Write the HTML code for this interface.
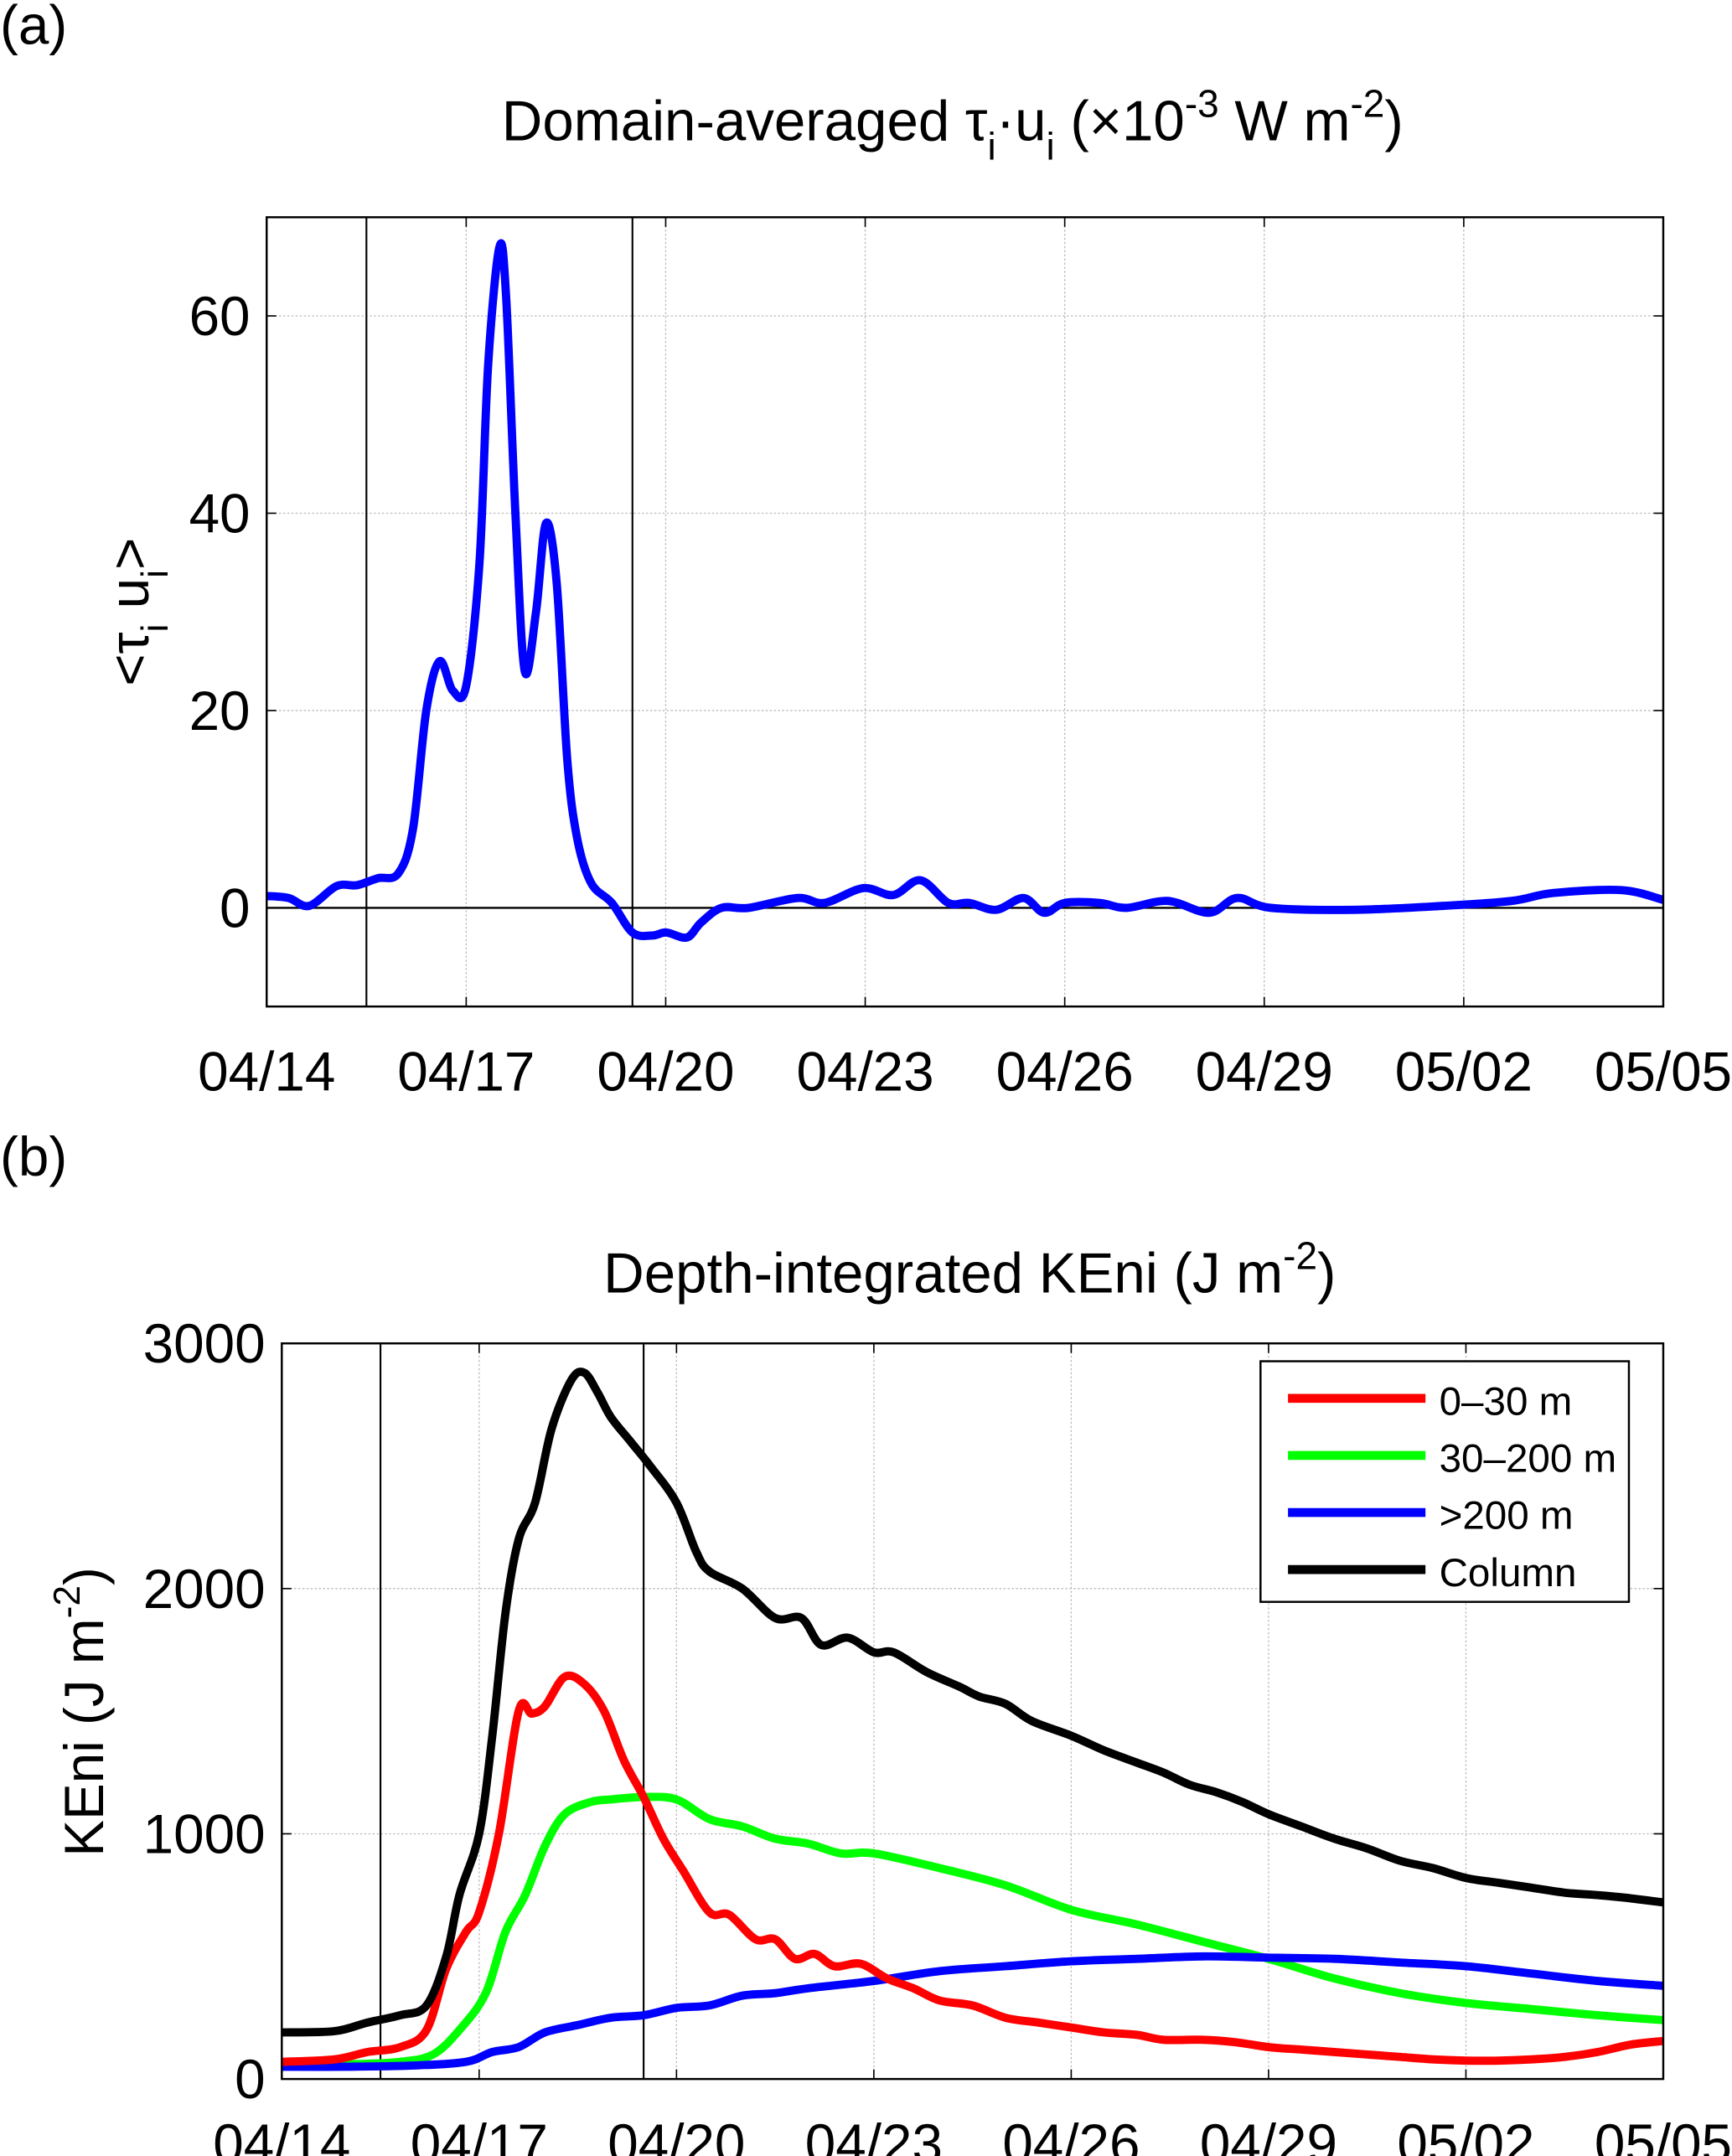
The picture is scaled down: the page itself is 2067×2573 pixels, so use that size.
<!DOCTYPE html>
<html><head><meta charset="utf-8"><style>
html,body{margin:0;padding:0;background:#fff}
svg{display:block}
text{font-family:"Liberation Sans",sans-serif;fill:#000}
</style></head><body>
<svg id="fig" width="2067" height="2573" viewBox="0 0 1260 1568" preserveAspectRatio="none" xmlns="http://www.w3.org/2000/svg">
<g id="pa"></g>
<g id="pb"></g>
</svg>
<script>
// Panel (a) data
const xTickLabels = ["04/14","04/17","04/20","04/23","04/26","04/29","05/02","05/05"];
const xTickDays = [0,3,6,9,12,15,18,21];
const eventDays = [1.5,5.5];
const aYTicks = [0,20,40,60];
const aDays = [0,0.33,0.64,1.05,1.36,1.67,1.98,2.2,2.4,2.6,2.8,3.0,3.2,3.33,3.5,3.6,3.74,3.88,4.05,4.2,4.36,4.52,4.67,4.88,5.19,5.5,5.8,6.01,6.32,6.53,6.84,7.25,7.98,8.39,8.97,9.42,9.83,10.25,10.56,10.97,11.38,11.69,12.0,12.52,12.93,13.55,14.17,14.59,15.1,16.34,17.69,18.72,19.34,20.37,21];
const aVals = [1.2,1,0.2,2.2,2.3,3,3.5,8,20,25,22,22.5,35,55,67,62,40,24,30,39,33,15,7,2.5,0.5,-2.5,-2.8,-2.5,-3,-1.5,0,0,1,0.5,2,1.3,2.8,0.5,0.5,-0.2,1,-0.5,0.5,0.5,0,0.7,-0.5,1,0,-0.2,0.2,0.7,1.5,1.8,0.8];
// Panel (b) data
const bYTicks = [0,1000,2000,3000];
const blackDays = [0,0.8,1.3,1.8,2.2,2.5,2.7,3.0,3.2,3.4,3.6,3.85,4.1,4.4,4.6,4.8,5.0,5.3,5.6,6.0,6.3,6.5,7.0,7.5,7.9,8.2,8.6,9.0,9.3,9.8,10.3,10.6,11.0,11.4,12.0,12.5,13.0,13.4,13.8,14.2,14.6,15.0,15.5,16.0,16.5,17.0,17.5,18.0,18.5,19.0,19.5,20.0,20.4,21];
const blackVals = [190,195,230,260,300,500,750,1000,1400,1900,2200,2350,2650,2850,2880,2800,2700,2600,2500,2350,2150,2070,2000,1880,1880,1770,1800,1740,1740,1660,1600,1560,1530,1460,1400,1340,1290,1250,1200,1170,1130,1080,1030,980,940,890,860,820,800,780,760,750,740,720];
const redDays = [0,0.8,1.3,1.8,2.2,2.5,2.8,3.0,3.3,3.6,3.8,4.0,4.3,4.6,4.9,5.2,5.5,5.8,6.1,6.5,6.8,7.2,7.5,7.8,8.1,8.4,8.8,9.2,9.6,10.0,10.5,11.0,11.5,12,12.5,13,13.4,14,14.5,15,15.5,16,16.5,17,17.5,18,18.5,19,19.5,20,20.5,21];
const redVals = [70,80,110,130,200,450,600,680,1000,1500,1490,1520,1640,1610,1500,1300,1150,980,850,680,670,570,570,490,510,460,470,410,370,320,300,250,230,210,190,180,160,160,150,130,120,110,100,90,80,75,75,80,90,110,140,155];
const greenDays = [0,1,1.8,2.3,2.7,3.1,3.4,3.7,4.0,4.3,4.7,5.0,5.5,6.0,6.5,7.0,7.5,8.0,8.5,9,10,11,12,13,14,15,16,17,18,19,20,21];
const greenVals = [60,60,70,100,200,350,600,750,950,1080,1130,1140,1150,1140,1060,1030,980,960,920,920,860,790,690,630,560,490,410,350,310,285,260,240];
const blueDays = [0,1,2,2.8,3.2,3.6,4.0,4.5,5.0,5.5,6.0,6.5,7.0,7.5,8,9,10,11,12,13,14,15,16,17,18,19,20,21];
const blueVals = [50,50,55,70,110,130,190,220,250,260,290,300,340,350,370,400,440,460,480,490,500,495,490,475,460,430,400,380];
const legendLabels = ["0\u201330 m","30\u2013200 m",">200 m","Column"];

const NS="http://www.w3.org/2000/svg";
function mk(parent,tag,attrs,txt){const e=document.createElementNS(NS,tag);for(const k in attrs)e.setAttribute(k,attrs[k]);if(txt!==undefined)e.textContent=txt;parent.appendChild(e);return e;}
function spline(xs,ys){let d="M"+xs[0].toFixed(2)+","+ys[0].toFixed(2);for(let i=0;i<xs.length-1;i++){const x0=xs[Math.max(i-1,0)],y0=ys[Math.max(i-1,0)],x1=xs[i],y1=ys[i],x2=xs[i+1],y2=ys[i+1],x3=xs[Math.min(i+2,xs.length-1)],y3=ys[Math.min(i+2,xs.length-1)];const c1x=x1+(x2-x0)/6,c1y=y1+(y2-y0)/6,c2x=x2-(x3-x1)/6,c2y=y2-(y3-y1)/6;d+=" C"+c1x.toFixed(2)+","+c1y.toFixed(2)+" "+c2x.toFixed(2)+","+c2y.toFixed(2)+" "+x2.toFixed(2)+","+y2.toFixed(2);}return d;}

function axes(g,L,R,T,B,xs,ys,yTicks){
  xTickDays.forEach((d,i)=>{const x=xs(d);
    if(i>0&&i<xTickDays.length-1){const gl=mk(g,'line',{x1:x,x2:x,y1:T,y2:B,stroke:'#bbb','stroke-width':0.8,'stroke-dasharray':'1.5,1.5'});}
    mk(g,'line',{x1:x,x2:x,y1:B,y2:B-7,stroke:'#000','stroke-width':1});
    mk(g,'line',{x1:x,x2:x,y1:T,y2:T+7,stroke:'#000','stroke-width':1});
    const t=mk(g,'text',{x:x,y:B+61,'font-size':40,'text-anchor':'middle'},xTickLabels[i]);
    
  });
  yTicks.forEach(v=>{const y=ys(v);
    const gl=mk(g,'line',{x1:L,x2:R,y1:y,y2:y,stroke:'#bbb','stroke-width':0.8,'stroke-dasharray':'1.5,1.5'});
    mk(g,'line',{x1:L,x2:L+7,y1:y,y2:y,stroke:'#000','stroke-width':1});
    mk(g,'line',{x1:R,x2:R-7,y1:y,y2:y,stroke:'#000','stroke-width':1});
    const t=mk(g,'text',{x:L-12,y:y+14,'font-size':40,'text-anchor':'end'},String(v));
    
  });
  eventDays.forEach(d=>{const l=mk(g,'line',{x1:xs(d),x2:xs(d),y1:T,y2:B,stroke:'#000','stroke-width':1.3});});
}

// Panel a
(function(){
  const g=document.getElementById('pa');
  const L=194,R=1210,T=158,B=732,ymin=-10,ymax=70;
  const xs=d=>L+(R-L)*d/21, ys=v=>B-(B-T)*(v-ymin)/(ymax-ymin);
  const lab=mk(g,'text',{x:0,y:32,'font-size':40},'(a)');
  const tt=mk(g,'text',{x:365,y:102,'font-size':41});
  tt.innerHTML='Domain-averaged τ<tspan font-size="28" dy="14">i</tspan><tspan dy="-14">·u</tspan><tspan font-size="28" dy="14">i</tspan><tspan dy="-14"> (×10</tspan><tspan font-size="28" dy="-17">-3</tspan><tspan dy="17"> W m</tspan><tspan font-size="28" dy="-17">-2</tspan><tspan dy="17">)</tspan>';
  axes(g,L,R,T,B,xs,ys,aYTicks);
  const z=mk(g,'line',{x1:L,x2:R,y1:ys(0),y2:ys(0),stroke:'#000','stroke-width':1.5});
  const p=mk(g,'path',{d:spline(aDays.map(xs),aVals.map(ys)),fill:'none',stroke:'#0000ff','stroke-width':6,'stroke-linejoin':'round'});
  
  const f=mk(g,'rect',{x:L,y:T,width:R-L,height:B-T,fill:'none',stroke:'#000','stroke-width':1.5});
  const yl=mk(g,'text',{transform:'translate(108,445) rotate(-90)','font-size':40,'text-anchor':'middle'});
  yl.innerHTML='&lt;τ<tspan font-size="27" dy="14">i</tspan><tspan dy="-14"> u</tspan><tspan font-size="27" dy="14">i</tspan><tspan dy="-14">&gt;</tspan>';
})();

// Panel b
(function(){
  const g=document.getElementById('pb');
  const L=205,R=1210,T=977,B=1512,ymin=0,ymax=3000;
  const xs=d=>L+(R-L)*d/21, ys=v=>B-(B-T)*(v-ymin)/(ymax-ymin);
  const lab=mk(g,'text',{x:0,y:855,'font-size':40},'(b)');
  const tt=mk(g,'text',{x:439,y:940,'font-size':41});
  tt.innerHTML='Depth-integrated KEni (J m<tspan font-size="28" dy="-17">-2</tspan><tspan dy="17">)</tspan>';
  axes(g,L,R,T,B,xs,ys,bYTicks);
  const series=[[greenDays,greenVals,'#00ff00','green-30-200m-series'],[blueDays,blueVals,'#0000ff','blue-below-200m-series'],[redDays,redVals,'#ff0000','red-0-30m-series'],[blackDays,blackVals,'#000','black-column-series']];
  series.forEach(s=>{const p=mk(g,'path',{d:spline(s[0].map(xs),s[1].map(ys)),fill:'none',stroke:s[2],'stroke-width':6,'stroke-linejoin':'round'});});
  const f=mk(g,'rect',{x:L,y:T,width:R-L,height:B-T,fill:'none',stroke:'#000','stroke-width':1.5});
  const yl=mk(g,'text',{transform:'translate(75,1245) rotate(-90)','font-size':40,'text-anchor':'middle'});
  yl.innerHTML='KEni (J m<tspan font-size="27" dy="-17">-2</tspan><tspan dy="17">)</tspan>';
  const lg=mk(g,'g',{});
  mk(lg,'rect',{x:917,y:990,width:268,height:175,fill:'#fff',stroke:'#000','stroke-width':1.5});
  const cols=['#ff0000','#00ff00','#0000ff','#000'];
  legendLabels.forEach((t,i)=>{const y=1017+i*41.5;
    const e=mk(lg,'g',{});
    mk(e,'line',{x1:937,x2:1037,y1:y,y2:y,stroke:cols[i],'stroke-width':6.5});
    mk(e,'text',{x:1047,y:y+12,'font-size':29},t);
  });
})();
</script>
</body></html>
